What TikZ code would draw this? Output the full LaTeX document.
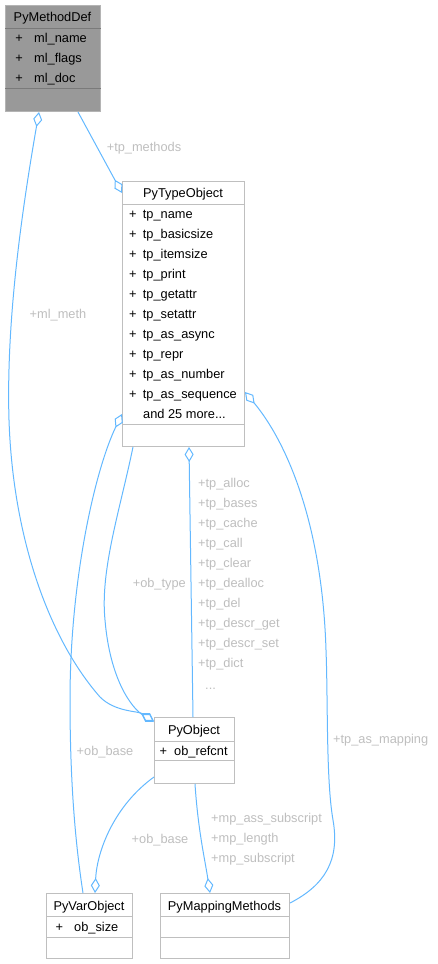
\documentclass[tikz,border=0pt]{standalone}
\usepackage{fontspec}
\setmainfont{Liberation Sans}
\usetikzlibrary{arrows.meta,calc}
\definecolor{edgec}{HTML}{63B8FF}
\definecolor{labc}{HTML}{BEBEBE}
\definecolor{boxc}{HTML}{BFBFBF}
\definecolor{hlfill}{HTML}{999999}
\definecolor{hlsepc}{HTML}{7A7A7A}
\definecolor{hlbord}{HTML}{B4B4B4}
\begin{document}
\begin{tikzpicture}[x=1pt,y=-1pt,
  box/.style={draw=boxc, line width=1pt, fill=white, inner sep=0pt, anchor=north west},
  sepline/.style={draw=boxc, line width=1pt},
  hlsep/.style={draw=hlsepc, line width=1pt},
  txt/.style={font=\fontsize{12.8}{15}\selectfont, inner sep=0pt, text height=11pt, text depth=1pt, text=black},
  fld/.style={txt, anchor=west},
  lab/.style={txt, text=labc},
  labw/.style={lab, anchor=west},
  edge/.style={draw=edgec, line width=1pt},
  dia/.style={Diamond[open, length=15pt, width=9pt]}
]
\useasboundingbox (0,0) rectangle (438,964);

% ---------- PyMethodDef ----------
\node[box, fill=hlfill, draw=hlbord, minimum width=95pt, minimum height=106pt] (pmd) at (5,5) {};
\draw[hlsep] ($(pmd.north west)+(0,23)$) -- ($(pmd.north east)+(0,23)$);
\draw[hlsep] ($(pmd.north west)+(0,83)$) -- ($(pmd.north east)+(0,83)$);
\node[txt] (pmdt) at (52.5,16.5) {PyMethodDef};
\node[fld] (pmd1p) at (15.3,37) {+};
\node[fld] (pmd1) at (34,37) {ml\_name};
\node[fld] (pmd2p) at (15.3,57) {+};
\node[fld] (pmd2) at (34,57) {ml\_flags};
\node[fld] (pmd3p) at (15.3,77) {+};
\node[fld] (pmd3) at (34,77) {ml\_doc};

% ---------- PyTypeObject ----------
\node[box, minimum width=122pt, minimum height=265pt] (tpo) at (122,181) {};
\draw[sepline] ($(tpo.north west)+(0,23)$) -- ($(tpo.north east)+(0,23)$);
\draw[sepline] ($(tpo.north west)+(0,243)$) -- ($(tpo.north east)+(0,243)$);
\node[txt] (tpot) at (183,192.5) {PyTypeObject};
\foreach \t [count=\i from 0] in {tp\_name,tp\_basicsize,tp\_itemsize,tp\_print,tp\_getattr,tp\_setattr,tp\_as\_async,tp\_repr,tp\_as\_number,tp\_as\_sequence}{
  \node[fld] (tpop\i) at (129,213+20*\i) {+};
  \node[fld] (tpof\i) at (142.7,213+20*\i) {\t};
}
\node[fld] (tpomore) at (143,413) {and 25 more...};

% ---------- PyObject ----------
\node[box, minimum width=80pt, minimum height=66pt] (pyo) at (154,717) {};
\draw[sepline] ($(pyo.north west)+(0,24)$) -- ($(pyo.north east)+(0,24)$);
\draw[sepline] ($(pyo.north west)+(0,43)$) -- ($(pyo.north east)+(0,43)$);
\node[txt] (pyot) at (194,729) {PyObject};
\node[fld] (pyop) at (159.3,750) {+};
\node[fld] (pyof) at (174,750) {ob\_refcnt};

% ---------- PyVarObject ----------
\node[box, minimum width=86pt, minimum height=65pt] (pvo) at (46,893) {};
\draw[sepline] ($(pvo.north west)+(0,23)$) -- ($(pvo.north east)+(0,23)$);
\draw[sepline] ($(pvo.north west)+(0,44)$) -- ($(pvo.north east)+(0,44)$);
\node[txt] (pvot) at (89,905) {PyVarObject};
\node[fld] (pvop) at (55.3,926) {+};
\node[fld] (pvof) at (74,926) {ob\_size};

% ---------- PyMappingMethods ----------
\node[box, minimum width=129pt, minimum height=65pt] (pmm) at (160,893) {};
\draw[sepline] ($(pmm.north west)+(0,23)$) -- ($(pmm.north east)+(0,23)$);
\draw[sepline] ($(pmm.north west)+(0,44)$) -- ($(pmm.north east)+(0,44)$);
\node[txt] (pmmt) at (224.5,905) {PyMappingMethods};

% ---------- connectors ----------
% +tp_methods
\draw[edge, -{Diamond[open, length=15pt, width=9pt]}] ($(pmd.south west)+(73,0)$) -- ($(tpo.north west)+(0,12)$);
% +ml_meth
\draw[edge, {Diamond[open, length=15pt, width=9pt]}-{Diamond[open, length=15pt, width=9pt]}]
  ($(pmd.south west)+(34,0)$) .. controls (22,210) and (6,320) .. (9,420)
  .. controls (13,540) and (50,640) .. (100,697)
  .. controls (115,712) and (138,711) .. ($(pyo.north west)+(0,4)$);
% +ob_type
\draw[edge, -{Diamond[open, length=15pt, width=9pt]}]
  ($(tpo.south west)+(11,0)$) .. controls (120,510) and (100,570) .. (105,620)
  .. controls (110,680) and (132,708) .. ($(pyo.north west)+(0,5)$);
% tp_alloc ...
\draw[edge, {Diamond[open, length=15pt, width=9pt]}-] ($(tpo.south west)+(67,0)$) -- ($(pyo.north west)+(39,0)$);
% +ob_base (PyTypeObject - PyVarObject)
\draw[edge, {Diamond[open, length=15pt, width=9pt]}-]
  ($(tpo.north west)+(0,233)$) .. controls (95,470) and (70,580) .. (70,700)
  .. controls (70,800) and (78,860) .. ($(pvo.north west)+(37,0)$);
% +ob_base (PyObject - PyVarObject)
\draw[edge, -{Diamond[open, length=15pt, width=9pt]}]
  ($(pyo.north west)+(0,60)$) .. controls (115,805) and (97,850) .. ($(pvo.north west)+(49,0)$);
% mp_*
\draw[edge, -{Diamond[open, length=15pt, width=9pt]}]
  ($(pyo.south west)+(41,0)$) .. controls (198,830) and (205,860) .. ($(pmm.north west)+(50,0)$);
% +tp_as_mapping
\draw[edge, {Diamond[open, length=15pt, width=9pt]}-]
  ($(tpo.north east)+(0,211)$) .. controls (285,440) and (322,520) .. (326,650)
  .. controls (328,700) and (326,780) .. (333,820)
  .. controls (340,860) and (325,885) .. ($(pmm.north east)+(0,10)$);

% ---------- labels ----------
\node[lab] (ltpm) at (144,146) {+tp\_methods};
\node[lab] (lmlm) at (58,313) {+ml\_meth};
\node[lab, anchor=east] (lobt) at (186,582) {+ob\_type};
\foreach \t [count=\i from 0] in {+tp\_alloc,+tp\_bases,+tp\_cache,+tp\_call,+tp\_clear,+tp\_dealloc,+tp\_del,+tp\_descr\_get,+tp\_descr\_set,+tp\_dict}{
  \node[labw] (ltp\i) at (198,482+20*\i) {\t};
}
\node[labw] (ldots) at (205,684) {...};
\node[lab] (lob1) at (105,750) {+ob\_base};
\node[lab] (lob2) at (160,838) {+ob\_base};
\node[labw] (lmp1) at (211,817) {+mp\_ass\_subscript};
\node[labw] (lmp2) at (211,837) {+mp\_length};
\node[labw] (lmp3) at (211,857) {+mp\_subscript};
\node[labw] (ltam) at (333,738) {+tp\_as\_mapping};
\end{tikzpicture}
\end{document}
